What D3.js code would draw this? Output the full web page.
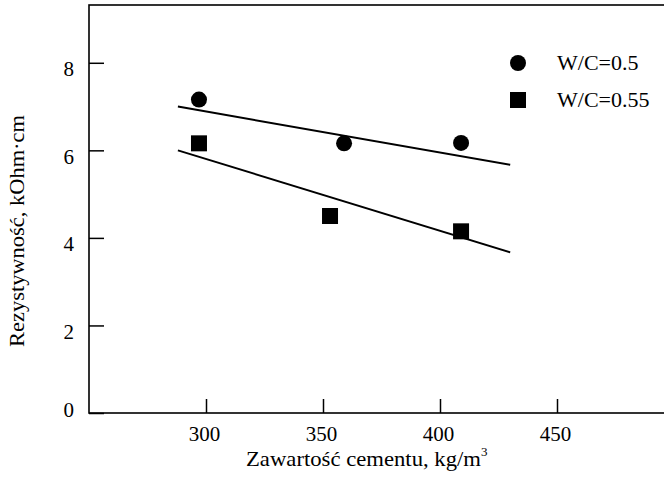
<!DOCTYPE html>
<html>
<head>
<meta charset="utf-8">
<script src="https://cdn.jsdelivr.net/npm/d3@7"></script>
<style>
  body { margin: 0; background: #fff; }
  svg { display: block; }
  svg text { font-family: "Liberation Serif", "Times New Roman", serif; fill: #000; }
</style>
</head>
<body>
<svg width="664" height="477"></svg>
<script>
// measured points
const cementA = [297, 359, 409];
const resA = [7.16, 6.16, 6.17];
const cementB = [297, 353, 409];
const resB = [6.16, 4.5, 4.15];

// fitted lines (end points as drawn)
const trendX = [288, 430];
const trendA = [7.0, 5.67];
const trendB = [6.0, 3.67];

const xTicks = [300, 350, 400, 450];
const yTicks = [0, 2, 4, 6, 8];
const legendLabels = ["W/C=0.5", "W/C=0.55"];

const svg = d3.select("svg");
const plotL = 89, plotT = 5, plotB = 413;

const x = d3.scaleLinear().domain([250, 500]).range([plotL, 674]);
const y = d3.scaleLinear().domain([0, 9.32]).range([plotB, plotT]);

// frame: left, top, bottom (right side runs off the picture)
svg.append("rect")
  .attr("x", plotL).attr("y", plotT)
  .attr("width", 620).attr("height", plotB - plotT)
  .attr("fill", "none").attr("stroke", "#000").attr("stroke-width", 1.6);

const xAxisG = svg.append("g")
  .attr("transform", `translate(0,${plotB})`)
  .call(d3.axisBottom(x).tickValues(xTicks).tickSizeInner(-14).tickSizeOuter(0).tickPadding(15));
const yAxisG = svg.append("g")
  .attr("transform", `translate(${plotL},0)`)
  .call(d3.axisLeft(y).tickValues(yTicks).tickSizeInner(-15).tickSizeOuter(0).tickPadding(15));

[xAxisG, yAxisG].forEach((g) => {
  g.select(".domain").remove();
  g.attr("font-family", null).attr("font-size", 21);
  g.selectAll("line").attr("stroke", "#000").attr("stroke-width", 1.5);
  g.selectAll("text").attr("fill", "#000");
});
yAxisG.selectAll("text").attr("dy", (d) => (d === 0 ? "0.18em" : "0.62em"));
xAxisG.selectAll("text").attr("dx", -2).attr("dy", "0.62em");

// axis titles
const xTitle = svg.append("text")
  .attr("x", 246).attr("y", 466)
  .attr("font-size", 21);
xTitle.append("tspan")
  .attr("textLength", 235)
  .attr("lengthAdjust", "spacingAndGlyphs")
  .text("Zawartość cementu, kg/m");
xTitle.append("tspan").attr("font-size", 13).attr("dy", -10).text("3");

svg.append("text")
  .attr("transform", "translate(24,231) rotate(-90)")
  .attr("text-anchor", "middle")
  .attr("font-size", 21)
  .attr("textLength", 232)
  .attr("lengthAdjust", "spacingAndGlyphs")
  .text("Rezystywność, kOhm·cm");

// trend lines
const line = d3.line().x((d) => x(d[0])).y((d) => y(d[1]));
[trendA, trendB].forEach((t) => {
  svg.append("path")
    .datum(trendX.map((v, i) => [v, t[i]]))
    .attr("d", line)
    .attr("fill", "none")
    .attr("stroke", "#000")
    .attr("stroke-width", 2);
});

// markers
svg.append("g").selectAll("circle")
  .data(cementA.map((c, i) => [c, resA[i]]))
  .join("circle")
  .attr("cx", (d) => x(d[0]))
  .attr("cy", (d) => y(d[1]))
  .attr("r", 8)
  .attr("fill", "#000");

const sq = 16;
svg.append("g").selectAll("rect")
  .data(cementB.map((c, i) => [c, resB[i]]))
  .join("rect")
  .attr("x", (d) => x(d[0]) - sq / 2)
  .attr("y", (d) => y(d[1]) - sq / 2)
  .attr("width", sq).attr("height", sq)
  .attr("fill", "#000");

// legend
const legend = svg.append("g");
legend.append("circle").attr("cx", 518).attr("cy", 63).attr("r", 8).attr("fill", "#000");
legend.append("rect").attr("x", 510).attr("y", 92).attr("width", sq).attr("height", sq).attr("fill", "#000");
legend.selectAll("text")
  .data(legendLabels)
  .join("text")
  .attr("x", 557)
  .attr("y", (d, i) => 63 + i * 37)
  .attr("dy", "0.33em")
  .attr("font-size", 22)
  .text((d) => d);
</script>
</body>
</html>
